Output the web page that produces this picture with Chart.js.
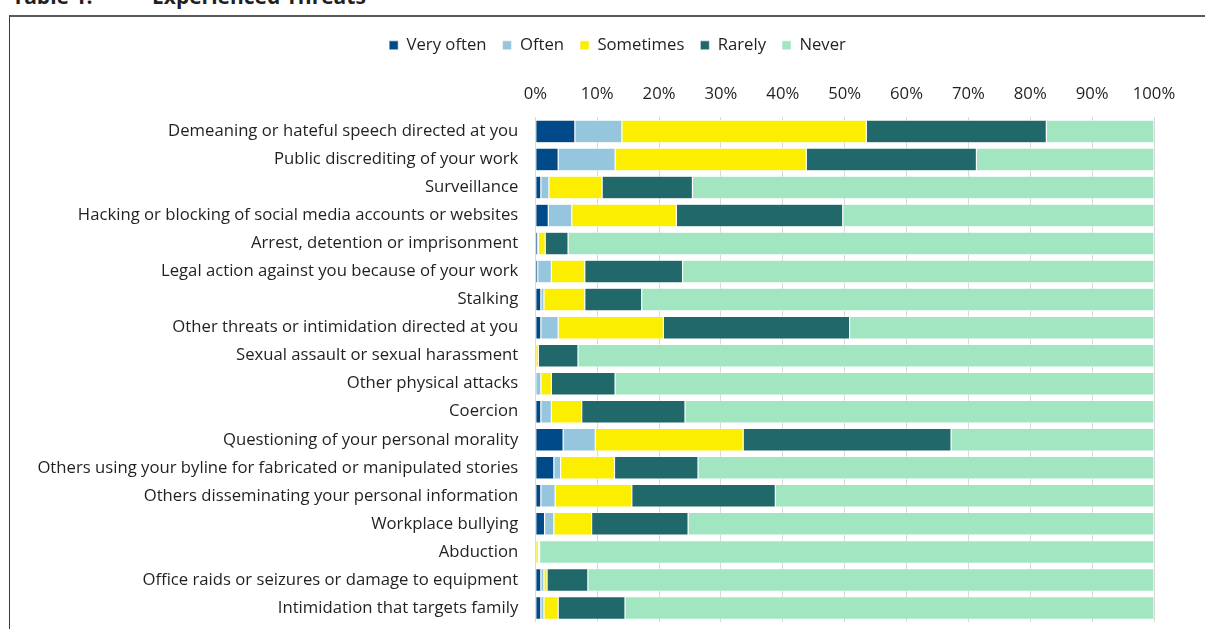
<!DOCTYPE html>
<html>
<head>
<meta charset="utf-8">
<script src="https://cdn.jsdelivr.net/npm/chart.js@4/dist/chart.umd.min.js"></script>
<style>
  html, body { margin: 0; padding: 0; background: #fff; }
  #wrap { position: relative; width: 1205px; height: 629px; overflow: hidden; }
  .title { position: absolute; top: -14px; font: bold 21px/21px "Open Sans", sans-serif; color: #231f20; white-space: pre; }
  #frame { position: absolute; left: 9px; top: 15px; width: 1300px; height: 700px; border-left: 1px solid #3a3a3a; border-top: 2px solid #5a5a5a; }
  #c { position: absolute; left: 0; top: 0; }
</style>
</head>
<body>
<div id="wrap">
  <div class="title" style="left:12px">Table 1.</div>
  <div class="title" style="left:152px">Experienced Threats</div>
  <div id="frame"></div>
  <canvas id="c" width="1205" height="649"></canvas>
</div>
<script>
const categories = [
  "Demeaning or hateful speech directed at you",
  "Public discrediting of your work",
  "Surveillance",
  "Hacking or blocking of social media accounts or websites",
  "Arrest, detention or imprisonment",
  "Legal action against you because of your work",
  "Stalking",
  "Other threats or intimidation directed at you",
  "Sexual assault or sexual harassment",
  "Other physical attacks",
  "Coercion",
  "Questioning of your personal morality",
  "Others using your byline for fabricated or manipulated stories",
  "Others disseminating your personal information",
  "Workplace bullying",
  "Abduction",
  "Office raids or seizures or damage to equipment",
  "Intimidation that targets family"
];

// Percent of respondents per frequency, one value per category
const veryOften = [6.4, 3.7, 0.9, 2.1, 0.4, 0.4, 0.9, 0.9, 0.0, 0.0, 0.9, 4.5, 3.0, 0.9, 1.5, 0.0, 0.9, 0.9];
const often     = [7.6, 9.2, 1.3, 3.8, 0.1, 2.2, 0.5, 2.8, 0.0, 0.9, 1.7, 5.2, 1.1, 2.3, 1.5, 0.0, 0.5, 0.5];
const sometimes = [39.5, 30.9, 8.6, 16.9, 1.1, 5.4, 6.6, 17.0, 0.5, 1.7, 4.9, 23.9, 8.7, 12.4, 6.1, 0.5, 0.5, 2.3];
const rarely    = [29.1, 27.5, 14.6, 26.9, 3.7, 15.8, 9.2, 30.1, 6.4, 10.3, 16.7, 33.6, 13.5, 23.2, 15.6, 0.2, 6.6, 10.8];
const never     = [17.4, 28.7, 74.6, 50.3, 94.7, 76.2, 82.8, 49.2, 93.1, 87.1, 75.8, 32.8, 73.7, 61.2, 75.3, 99.3, 91.5, 85.5];

const seriesNames = ["Very often", "Often", "Sometimes", "Rarely", "Never"];
const xTicks = [0, 10, 20, 30, 40, 50, 60, 70, 80, 90, 100];

const colors = ["#004a89", "#95c6de", "#fcee00", "#21686a", "#a1e5c1"];
const series = [veryOften, often, sometimes, rarely, never];

const FONT = '"Open Sans", sans-serif';
const TEXT = '#231f20';
const SIZE = 16.7;

// Nudge the legend row to the right so it sits centred over the figure
const legendShift = {
  id: 'legendShift',
  afterLayout(chart) {
    const lg = chart.legend;
    if (lg) { lg.left += 25.5; lg.right += 25.5; }
  }
};

new Chart(document.getElementById('c'), {
  type: 'bar',
  data: {
    labels: categories,
    datasets: series.map((vals, i) => ({
      label: seriesNames[i],
      data: vals,
      backgroundColor: colors[i],
      borderColor: 'rgba(255,255,255,0.95)',
      borderWidth: 0.6,
      borderSkipped: false,
      barPercentage: 0.81,
      categoryPercentage: 1.0
    }))
  },
  plugins: [legendShift],
  options: {
    indexAxis: 'y',
    responsive: false,
    animation: false,
    devicePixelRatio: 1,
    layout: { padding: { top: 21, right: 51, bottom: 6, left: 30 } },
    plugins: {
      tooltip: { enabled: false },
      legend: {
        position: 'top',
        labels: {
          boxWidth: 9,
          boxHeight: 9,
          padding: 16,
          color: TEXT,
          font: { family: FONT, size: SIZE }
        }
      }
    },
    scales: {
      x: {
        position: 'top',
        stacked: true,
        min: 0,
        max: 100,
        afterBuildTicks: (s) => { s.ticks = xTicks.map(v => ({ value: v })); },
        afterFit: (s) => { s.height = 53.7; },
        ticks: {
          color: TEXT,
          padding: 13,
          font: { family: FONT, size: SIZE },
          callback: (v) => v + '%'
        },
        grid: { color: '#d9d9d9', lineWidth: 1, drawTicks: false },
        border: { display: false }
      },
      y: {
        stacked: true,
        afterFit: (s) => { s.width = 505.3; },
        ticks: {
          color: TEXT,
          padding: 17,
          autoSkip: false,
          font: { family: FONT, size: SIZE }
        },
        grid: { display: false, drawTicks: false },
        border: { display: false }
      }
    }
  }
});
</script>
</body>
</html>
